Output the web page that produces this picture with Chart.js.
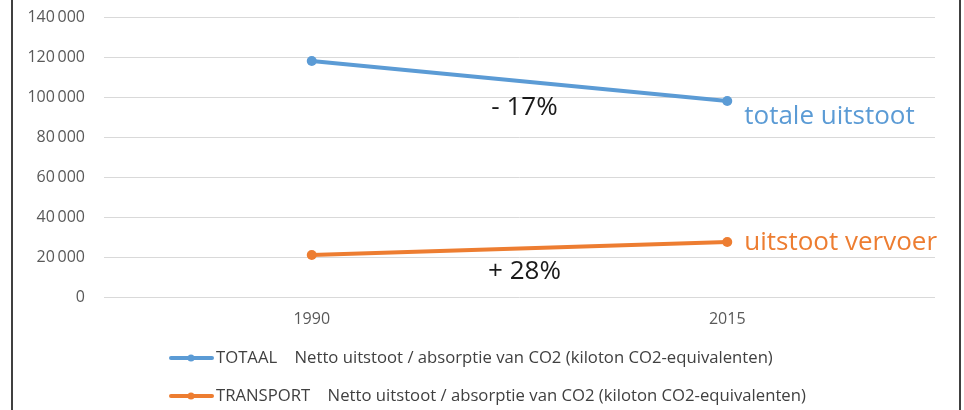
<!DOCTYPE html>
<html><head><meta charset="utf-8">
<script src="https://cdn.jsdelivr.net/npm/chart.js@4.4.1/dist/chart.umd.min.js"></script>
<style>html,body{margin:0;padding:0;background:#fff}#wrap{width:964px;height:410px}</style>
</head><body><div id="wrap"><canvas id="c" width="964" height="410"></canvas></div>
<script>
const categories = ['1990', '2015'];
const totaalValues = [118000, 98000];
const transportValues = [21000, 27500];
const seriesNames = [
  'TOTAAL    Netto uitstoot / absorptie van CO2 (kiloton CO2-equivalenten)',
  'TRANSPORT    Netto uitstoot / absorptie van CO2 (kiloton CO2-equivalenten)'
];
const endLabels = ['totale uitstoot', 'uitstoot vervoer'];
const changeLabels = ['- 17%', '+ 28%'];
const yTicks = [0, 20000, 40000, 60000, 80000, 100000, 120000, 140000];

const BLUE = '#5B9BD5', ORANGE = '#ED7D31';
const FONT = '"Open Sans", "Noto Sans", sans-serif';

function fmt(v){ return String(v).replace(/\B(?=(\d{3})+(?!\d))/g, '\u2009'); }

const extras = {
  id: 'extras',
  beforeDraw(chart){
    const ctx = chart.ctx;
    ctx.save();
    ctx.fillStyle = '#fff';
    ctx.fillRect(0,0,chart.width,chart.height);
    ctx.strokeStyle = '#404040'; ctx.lineWidth = 2;
    ctx.beginPath(); ctx.moveTo(12,0); ctx.lineTo(12,chart.height);
    ctx.moveTo(960,0); ctx.lineTo(960,chart.height); ctx.stroke();
    ctx.restore();
  },
  afterDatasetsDraw(chart){
    const ctx = chart.ctx;
    const cols = [BLUE, ORANGE];
    ctx.save();
    chart.data.datasets.forEach((ds, i) => {
      const meta = chart.getDatasetMeta(i);
      const p0 = meta.data[0], p1 = meta.data[1];
      ctx.fillStyle = cols[i];
      ctx.font = '26px ' + FONT;
      ctx.textAlign = 'left'; ctx.textBaseline = 'middle';
      ctx.fillText(endLabels[i], p1.x + 17, p1.y + (i === 0 ? 16 : 1));
      ctx.fillStyle = '#1a1a1a';
      ctx.font = '26px ' + FONT;
      ctx.textAlign = 'center';
      const mx = (p0.x + p1.x) / 2 + 5, my = (p0.y + p1.y) / 2;
      ctx.fillText(changeLabels[i], mx, my + (i === 0 ? 27 : 23));
    });
    ctx.font = '16.7px ' + FONT;
    ctx.textAlign = 'left'; ctx.textBaseline = 'middle';
    const rows = [358, 396];
    rows.forEach((y, i) => {
      ctx.strokeStyle = cols[i]; ctx.lineWidth = 4; ctx.lineCap = 'round';
      ctx.beginPath(); ctx.moveTo(171, y); ctx.lineTo(212, y); ctx.stroke();
      ctx.fillStyle = cols[i];
      ctx.beginPath(); ctx.arc(191, y, 3.5, 0, Math.PI*2); ctx.fill();
      ctx.fillStyle = '#404040';
      ctx.fillText(seriesNames[i], 216, y);
    });
    ctx.restore();
  }
};

new Chart(document.getElementById('c'), {
  type: 'line',
  data: {
    labels: categories,
    datasets: [
      { label: seriesNames[0], data: totaalValues, borderColor: BLUE, backgroundColor: BLUE,
        borderWidth: 4, pointRadius: 5, pointBorderWidth: 0, pointHoverRadius: 5 },
      { label: seriesNames[1], data: transportValues, borderColor: ORANGE, backgroundColor: ORANGE,
        borderWidth: 4, pointRadius: 5, pointBorderWidth: 0, pointHoverRadius: 5 }
    ]
  },
  options: {
    responsive: false, animation: false,
    layout: { padding: { left: 0, right: 29, top: 17, bottom: 73 } },
    plugins: { legend: { display: false }, tooltip: { enabled: false } },
    scales: {
      x: {
        offset: true,
        grid: { display: false, drawTicks: false },
        border: { display: false },
        ticks: { color: '#595959', font: { family: FONT, size: 16 }, padding: 13 },
        afterFit(s){ s.height = 40; s.paddingLeft = 0; s.paddingRight = 0; }
      },
      y: {
        min: 0, max: 140000,
        afterBuildTicks(s){ s.ticks = yTicks.map(v => ({ value: v })); },
        grid: { color: '#d9d9d9', lineWidth: 1, drawTicks: false },
        border: { display: false },
        ticks: { color: '#595959', font: { family: FONT, size: 16 }, padding: 19,
                 callback: v => fmt(v) },
        afterFit(s){ s.width = 104; s.paddingTop = 0; s.paddingBottom = 0; }
      }
    }
  },
  plugins: [extras]
});
</script></body></html>
